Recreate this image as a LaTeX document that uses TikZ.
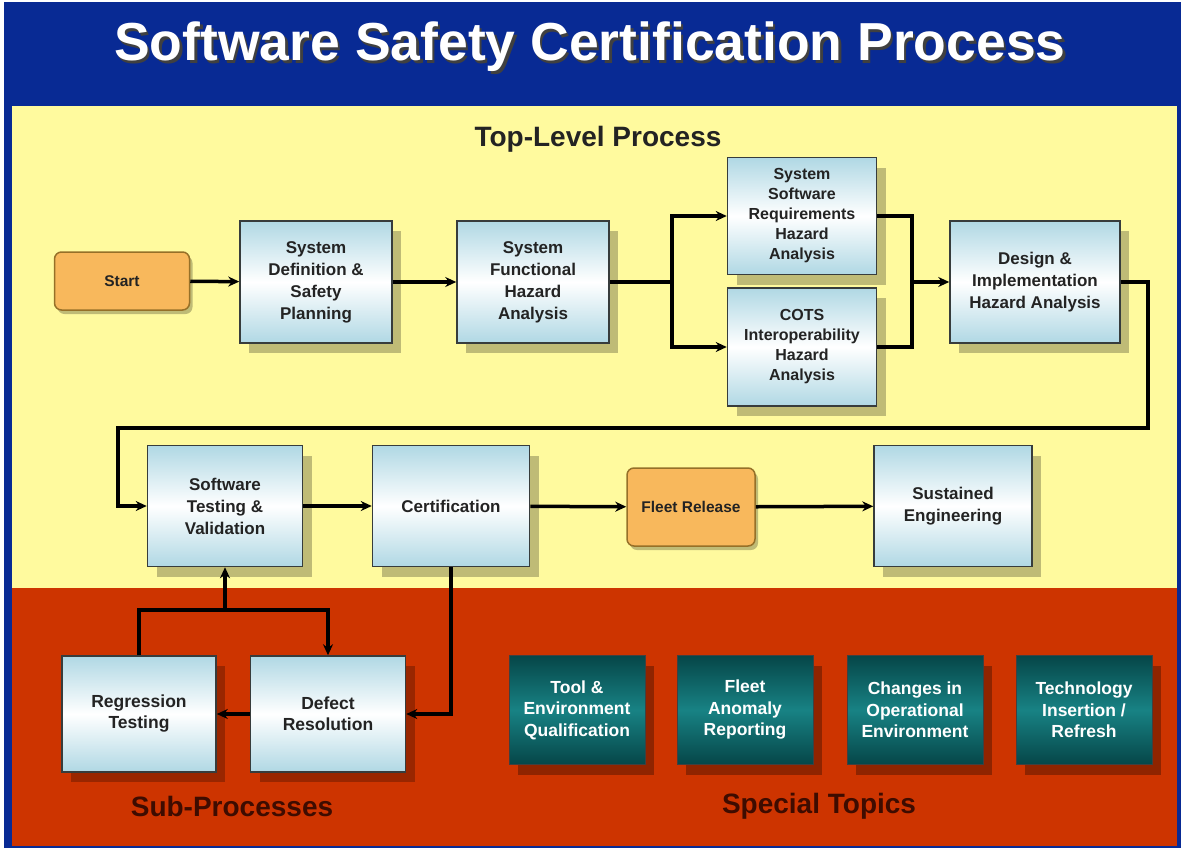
\documentclass[tikz,border=0pt]{standalone}
\usepackage{fontspec}
\setmainfont{Liberation Sans}
\usetikzlibrary{shapes, arrows, arrows.meta, shadows, calc}
\definecolor{bandblue}{RGB}{8,42,148}
\definecolor{padyellow}{RGB}{255,250,158}
\definecolor{padred}{RGB}{205,52,0}
\definecolor{boxblue}{RGB}{176,216,228}
\definecolor{boxline}{RGB}{55,60,60}
\definecolor{startorange}{RGB}{248,184,92}
\definecolor{startline}{RGB}{150,112,40}
\definecolor{tealdark}{RGB}{6,70,72}
\definecolor{tealmid}{RGB}{24,130,132}
\definecolor{labeldark}{RGB}{62,12,0}
\definecolor{textgray}{RGB}{35,35,35}
\tikzset{%
    proc/.style={%
        draw=boxline, line width=1.5pt, top color=boxblue, bottom color=boxblue, middle color=white,
        align=center, text=textgray, inner sep=2pt, font=\fontsize{17}{22}\selectfont\bfseries,
        drop shadow={shadow xshift=9pt, shadow yshift=-10pt, fill=black, opacity=0.25}
    }
}
\tikzset{%
    terminal/.style={%
        draw=startline, line width=1.5pt, fill=startorange, rounded corners=7pt, align=center,
        text=textgray, font=\fontsize{15.5}{20}\selectfont\bfseries,
        drop shadow={shadow xshift=3pt, shadow yshift=-4pt, fill=black, opacity=0.25}
    }
}
\tikzset{%
    topic/.style={%
        draw=black!75, line width=1pt, top color=tealdark, bottom color=tealdark, middle color=tealmid,
        align=center, text=white, font=\fontsize{17.5}{21.5}\selectfont\bfseries,
        minimum width=136pt, minimum height=109pt,
        drop shadow={shadow xshift=9pt, shadow yshift=-10pt, fill=black, opacity=0.3}
    }
}
\tikzstyle{flow}=[->, >={Stealth[length=11pt,width=10pt]}, line width=3.5pt, black]
\tikzstyle{branch}=[flow, line width=4.5pt]
\tikzstyle{heading}=[font=\fontsize{28}{32}\selectfont\bfseries]

\begin{document}
\begin{tikzpicture}[x=1pt, y=-1pt]
  \useasboundingbox (0,0) rectangle (1182,848);
  % background bands
  \fill[white] (0,0) rectangle (1182,848);
  \fill[bandblue] (4,2) rectangle (1181,848);
  \fill[padyellow] (12,106) rectangle (1177,588);
  \fill[padred] (12,588) rectangle (1177,846);

  \node[text=black!75, font=\fontsize{53.5}{60}\selectfont\bfseries] (titleshade) at (592.5,49.5) {Software Safety Certification Process};
  \node[text=white, font=\fontsize{53.5}{60}\selectfont\bfseries] (title) at (590,47) {Software Safety Certification Process};

  \node[heading, text=textgray] (toplevel) at (598,139) {Top-Level Process};
  \node[heading, text=labeldark] (subproc) at (232,806) {Sub-Processes};
  \node[heading, text=labeldark] (special) at (819,806) {Special Topics};

  % top-level row 1
  \node[terminal, minimum width=135pt, minimum height=58pt] (start) at (122,281) {Start};
  \node[proc, minimum width=152pt, minimum height=122pt] (sysdef) at (316,282) {System\\Definition \&\\Safety\\Planning};
  \node[proc, minimum width=152pt, minimum height=122pt] (sysfha) at (533,282) {System\\Functional\\Hazard\\Analysis};
  \node[proc, minimum width=149pt, minimum height=117pt, font=\fontsize{16}{20}\selectfont\bfseries] (ssrha) at (802,216) {System\\Software\\Requirements\\Hazard\\Analysis};
  \node[proc, minimum width=149pt, minimum height=118pt, font=\fontsize{16}{20}\selectfont\bfseries] (cots) at (802,347) {COTS\\Interoperability\\Hazard\\Analysis};
  \node[proc, minimum width=170pt, minimum height=122pt] (design) at (1035,282) {Design \&\\Implementation\\Hazard Analysis};

  % top-level row 2
  \node[proc, minimum width=155pt, minimum height=121pt] (swtest) at (225,506) {Software\\Testing \&\\Validation};
  \node[proc, minimum width=157pt, minimum height=121pt] (cert) at (451,506) {Certification};
  \node[terminal, minimum width=128pt, minimum height=78pt] (fleet) at (691,507) {Fleet Release};
  \node[proc, minimum width=158pt, minimum height=121pt] (sustain) at (953,506) {Sustained\\Engineering};

  % sub-processes
  \node[proc, minimum width=154pt, minimum height=116pt, font=\fontsize{17.5}{21}\selectfont\bfseries] (regress) at (139,714) {Regression\\Testing};
  \node[proc, minimum width=155pt, minimum height=116pt, font=\fontsize{17.5}{21}\selectfont\bfseries] (defect) at (328,714) {Defect\\Resolution};

  % special topics
  \node[topic] (toolqual) at (577,710) {Tool \&\\Environment\\Qualification};
  \node[topic] (anomaly) at (745,710) {Fleet\\Anomaly\\Reporting};
  \node[topic] (opchange) at (915,710) {Changes in\\Operational\\Environment};
  \node[topic] (techrefresh) at (1084,710) {Technology\\Insertion /\\Refresh};

  % connectors
  \coordinate (forkA) at (672,282);
  \coordinate (joinA) at (912,282);
  \coordinate (wrapR) at (1148,428);
  \coordinate (wrapL) at (118,428);
  \coordinate (loopTop) at (328,610);

  \draw[flow] (start) -- (sysdef);
  \draw[flow] (sysdef) -- (sysfha);
  \draw[branch, -] (sysfha.east) -- (forkA);
  \draw[branch] (forkA) |- (ssrha.west);
  \draw[branch] (forkA) |- (cots.west);
  \draw[branch, -] (ssrha.east) -| (joinA);
  \draw[branch, -] (cots.east) -| (joinA);
  \draw[flow] (joinA) -- (design.west);
  \draw[flow] (design.east) -| (wrapR) -- (wrapL) |- (swtest.west);
  \draw[flow] (swtest) -- (cert);
  \draw[flow] (cert) -- (fleet);
  \draw[flow] (fleet) -- (sustain);
  \draw[flow] (cert.south) |- (defect.east);
  \draw[flow] (defect.west) -- (regress.east);
  \draw[flow] (regress.north) |- (loopTop) -- (defect.north);
  \draw[flow] (swtest.south |- loopTop) -- (swtest.south);
\end{tikzpicture}
\end{document}
